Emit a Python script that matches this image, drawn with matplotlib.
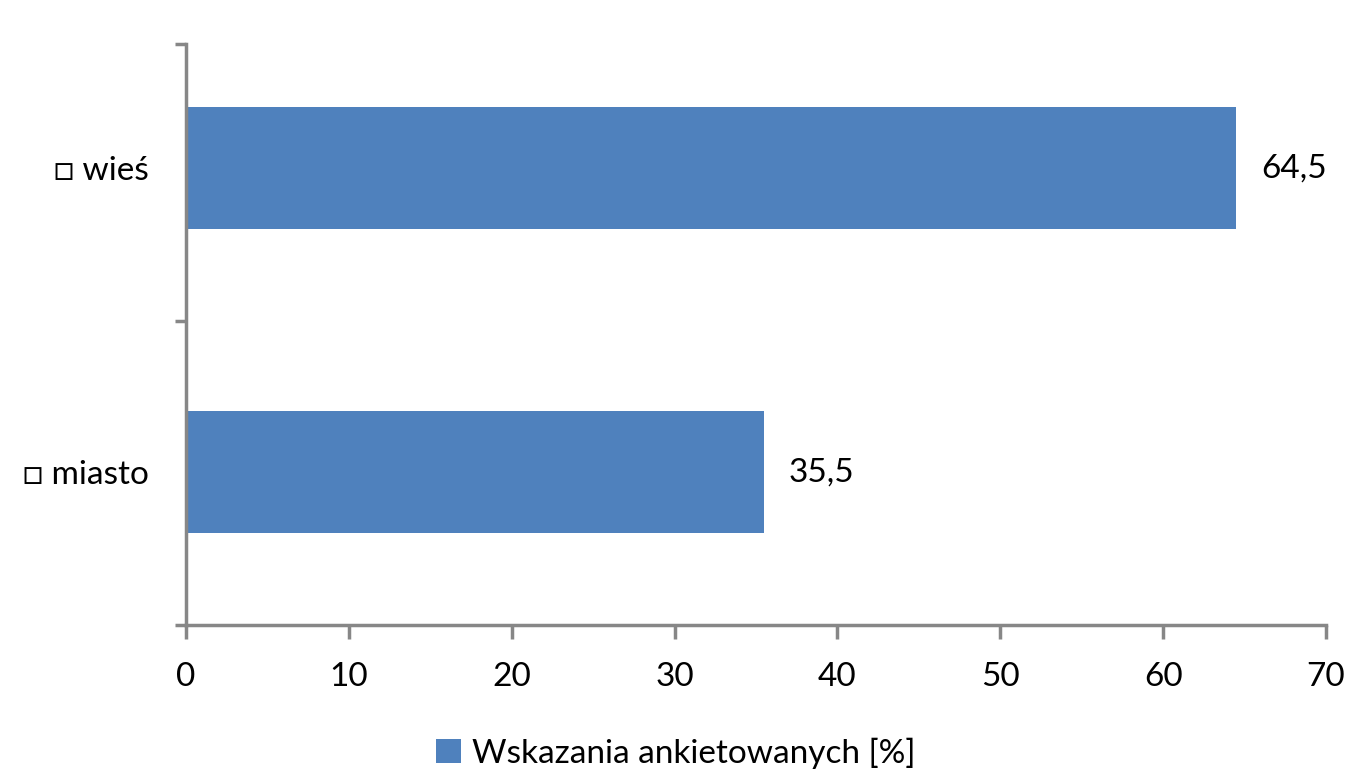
import matplotlib
matplotlib.use("Agg")
import matplotlib.pyplot as plt
from matplotlib.patches import Patch

categories = ["□ miasto", "□ wieś"]
values = [35.5, 64.5]
value_labels = ["35,5", "64,5"]
xticks = [0, 10, 20, 30, 40, 50, 60, 70]
legend_label = "Wskazania ankietowanych [%]"

plt.rcParams['font.family'] = ['Lato', 'DejaVu Sans']
bar_color = "#4F81BD"
axis_color = "#878787"
fs = 24

fig = plt.figure(figsize=(13.49, 7.74), dpi=100)
ax = fig.add_axes([186/1349, 1-625/774, (1326-186)/1349, (625-44)/774])

pos = list(range(len(categories)))
ax.barh(pos, values, height=0.40, color=bar_color)
for p, v, lab in zip(pos, values, value_labels):
    ax.text(v + 1.5, p, lab, va='center', ha='left', fontsize=fs, color='black')

ax.set_xlim(0, 70)
ax.set_ylim(-0.503, 1.408)
ax.set_xticks(xticks)
ax.set_xticklabels([str(t) for t in xticks], fontsize=fs)
ax.set_yticks(pos)
ax.set_yticklabels(categories, fontsize=fs)
ax.tick_params(axis='y', which='major', length=0, pad=27)
ax.set_yticks([-0.503, 0.497, 1.408], minor=True)
ax.tick_params(axis='y', which='minor', length=8, width=2.5, color=axis_color, direction='out')
ax.tick_params(axis='x', length=10, width=2.5, color=axis_color, direction='out', pad=17)

for s in ['top', 'right']:
    ax.spines[s].set_visible(False)
for s in ['left', 'bottom']:
    ax.spines[s].set_color(axis_color)
    ax.spines[s].set_linewidth(2.5)

handle = Patch(facecolor=bar_color, edgecolor='none')
fig.legend([handle], [legend_label], loc='center', bbox_to_anchor=(0.501, 1-753/774),
           frameon=False, fontsize=fs, handlelength=0.75, handleheight=0.75, handletextpad=0.35)

fig.savefig("out.png", dpi=100)
